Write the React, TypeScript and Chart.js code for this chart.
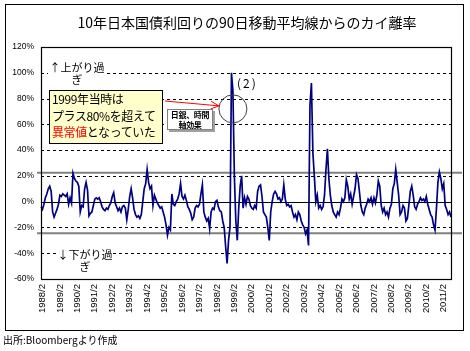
import React, { useEffect, useRef } from 'react';
import { Chart, registerables } from 'chart.js';

Chart.register(...registerables);

// Monthly deviation (%) of the 10y JGB yield from its 90-day moving average, 1988/1 .. 2011/7
const startYear = 1988;
const startMonth = 1;
const deviation: number[] = [
  -4, -6, -2, 3, 6, 10, 12, 8, -8, -12, -9, -6, // 1988
  -2, 5, 4, 6, 5, 4, 6, -2, 3, -1, 22, 18, // 1989
  16, 15, 12, -8, -3, -4, 10, 15, 9, -11, -9, -8, // 1990
  -3, 2, 3, 2, 3, 0, -4, -6, -7, -5, -6, -3, // 1991
  -1, 4, 7, -1, -4, -7, -5, -8, -4, -3, -5, -14, // 1992
  -6, 4, 10, 3, -6, -10, -12, -11, -13, -10, 0, 10, // 1993
  14, 25, 15, 10, 12, -3, 5, 2, -1, -3, -5, -4, // 1994
  -8, -12, -18, -26, -20, -22, 6, -2, -3, 0, 2, 6, // 1995
  14, 4, 2, 5, 1, -4, -6, -9, -14, -12, -5, -3, // 1996
  -4, -2, 6, 13, -8, -12, -15, -13, -21, -8, -5, -6, // 1997
  0, 1, -4, -7, -8, -15, -20, -35, -48, -30, -20, 100, // 1998
  86, 20, -15, -30, -5, 12, 20, -5, 3, -2, 4, 2, // 1999
  -3, -5, -6, -3, -5, 8, 12, 13, 4, -8, -10, -12, // 2000
  -20, -30, -8, 0, 6, 8, 6, 2, 3, 0, 2, 13, // 2001
  2, -3, -2, -4, -3, -8, -12, -10, -14, -8, -10, -15, // 2002
  -18, -20, -25, -22, -34, 75, 92, 38, 20, 0, 5, -5, // 2003
  -3, -6, -4, 5, 25, 41, 18, 5, -3, -8, -10, -12, // 2004
  -8, -10, -5, 2, 0, 3, 17, 12, 2, 6, -2, 4, // 2005
  10, 21, 18, 8, -3, -8, -10, -5, -2, 2, 0, 3, // 2006
  -2, 3, -1, 5, 16, 12, -3, -8, -5, -10, -8, -12, // 2007
  -5, -2, 10, 14, 25, 15, 5, -10, -8, -3, -5, -15, // 2008
  -13, -3, 8, 12, 5, -4, -6, -2, 0, 3, 1, 2, // 2009
  0, 4, -2, -6, -10, -12, -18, -22, -5, 15, 23, 18, // 2010
  10, 14, -3, -6, -10, -8, -12, // 2011
];

const xTickLabels: string[] = [
  '1988/2', '1989/2', '1990/2', '1991/2', '1992/2', '1993/2', '1994/2', '1995/2',
  '1996/2', '1997/2', '1998/2', '1999/2', '2000/2', '2001/2', '2002/2', '2003/2',
  '2004/2', '2005/2', '2006/2', '2007/2', '2008/2', '2009/2', '2010/2', '2011/2',
];

const yMin = -60;
const yMax = 120;
const yStep = 20;
const upperBand = 22.5;
const lowerBand = -24.5;
const circleMonth = '1999/1';
const circleValue = 72;

const titleText = '10年日本国債利回りの90日移動平均線からのカイ離率';
const sourceText = '出所:Bloombergより作成';

const monthLabels: string[] = deviation.map((_, i) => {
  const m0 = startMonth - 1 + i;
  return `${startYear + Math.floor(m0 / 12)}/${(m0 % 12) + 1}`;
});

const decorPlugin = {
  id: 'decor',
  beforeDatasetsDraw(chart: any) {
    const { ctx, chartArea } = chart;
    const { left, right } = chartArea;
    const y = chart.scales.y;
    ctx.save();
    ctx.strokeStyle = '#000';
    ctx.lineWidth = 1;
    for (let v = yMin + yStep; v < yMax; v += yStep) {
      const py = Math.round(y.getPixelForValue(v)) + 0.5;
      ctx.setLineDash(v === 0 ? [] : [3, 3]);
      ctx.beginPath();
      ctx.moveTo(left, py);
      ctx.lineTo(right, py);
      ctx.stroke();
    }
    ctx.setLineDash([]);
    ctx.strokeStyle = '#808080';
    ctx.lineWidth = 2;
    [upperBand, lowerBand].forEach((v) => {
      const py = y.getPixelForValue(v);
      ctx.beginPath();
      ctx.moveTo(left - 4, py);
      ctx.lineTo(right + 11, py);
      ctx.stroke();
    });
    ctx.restore();
  },
  afterDraw(chart: any) {
    const { ctx, chartArea } = chart;
    const { left, right, top, bottom } = chartArea;
    const x = chart.scales.x;
    const y = chart.scales.y;
    ctx.save();
    ctx.strokeStyle = '#000';
    ctx.lineWidth = 1.2;
    ctx.strokeRect(Math.round(left) + 0.5, Math.round(top) + 0.5, Math.round(right - left), Math.round(bottom - top));
    // circle
    const cx = x.getPixelForValue(monthLabels.indexOf(circleMonth));
    const cy = y.getPixelForValue(circleValue);
    ctx.strokeStyle = '#404040';
    ctx.lineWidth = 1;
    ctx.beginPath();
    ctx.arc(cx, cy, 14, 0, Math.PI * 2);
    ctx.stroke();
    // red arrow
    const x0 = 165;
    const y0 = 101;
    const x1 = cx - 14;
    const y1 = cy - 3;
    ctx.strokeStyle = '#ff0000';
    ctx.lineWidth = 1;
    ctx.beginPath();
    ctx.moveTo(x0, y0);
    ctx.lineTo(x1, y1);
    const ang = Math.atan2(y1 - y0, x1 - x0);
    const hl = 9;
    ctx.moveTo(x1, y1);
    ctx.lineTo(x1 - hl * Math.cos(ang - 0.45), y1 - hl * Math.sin(ang - 0.45));
    ctx.moveTo(x1, y1);
    ctx.lineTo(x1 - hl * Math.cos(ang + 0.45), y1 - hl * Math.sin(ang + 0.45));
    ctx.stroke();
    ctx.restore();
  },
};

const jp = '"Noto Sans CJK JP", "Noto Sans", sans-serif';
const tickFont = { family: '"Liberation Sans", Arial, sans-serif', size: 8.5 };

export default function App() {
  const canvasRef = useRef<HTMLCanvasElement | null>(null);

  useEffect(() => {
    const canvas = canvasRef.current;
    if (!canvas) return;
    const chart = new Chart(canvas, {
      type: 'line',
      data: {
        labels: monthLabels,
        datasets: [
          {
            data: deviation,
            borderColor: '#000080',
            borderWidth: 1.7,
            pointRadius: 0,
            tension: 0,
            fill: false,
          },
        ],
      },
      options: {
        responsive: false,
        animation: false,
        devicePixelRatio: 1,
        layout: { padding: { top: 47, left: 0, right: 19, bottom: 32 } },
        plugins: {
          legend: { display: false },
          tooltip: { enabled: false },
          title: { display: false },
        },
        scales: {
          x: {
            type: 'category',
            grid: { display: false, drawTicks: false },
            border: { display: false },
            ticks: {
              autoSkip: false,
              minRotation: 90,
              maxRotation: 90,
              padding: 5,
              color: '#000',
              font: { family: '"Liberation Sans", Arial, sans-serif', size: 9.5 },
              callback: (_v: any, i: number) => (xTickLabels.includes(monthLabels[i]) ? monthLabels[i] : ''),
            },
            afterFit: (s: any) => {
              s.height = 40;
            },
          },
          y: {
            min: yMin,
            max: yMax,
            grid: { display: false, drawTicks: false },
            border: { display: false },
            ticks: {
              stepSize: yStep,
              padding: 7,
              color: '#000',
              font: tickFont,
              callback: (v: any) => `${v}%`,
            },
            afterFit: (s: any) => {
              s.width = 41;
            },
          },
        },
      },
      plugins: [decorPlugin],
    } as any);
    return () => chart.destroy();
  }, []);

  return (
    <div style={{ position: 'fixed', left: 0, top: 0, width: 470, height: 351, background: '#fff', overflow: 'hidden' }}>
      <canvas ref={canvasRef} width={470} height={351} style={{ position: 'absolute', left: 0, top: 0 }} />
      <div style={{ position: 'absolute', left: 5, top: 4, width: 459, height: 327, border: '1px solid #000', boxSizing: 'border-box', pointerEvents: 'none' }} />
      <div style={{ position: 'absolute', left: 24, top: 14, width: 446, textAlign: 'center', fontFamily: jp, fontSize: 14, lineHeight: '17px', whiteSpace: 'nowrap', color: '#000' }}>
        {titleText}
      </div>
      <div style={{ position: 'absolute', left: 48, top: 60, width: 58, padding: '1px 0', background: '#fff', fontFamily: jp, fontSize: 11, lineHeight: '12px', textAlign: 'center', color: '#000' }}>
        ↑上がり過<br />ぎ
      </div>
      <div style={{ position: 'absolute', left: 57, top: 247, width: 56, padding: '1px 0', background: '#fff', fontFamily: jp, fontSize: 11, lineHeight: '12px', textAlign: 'center', color: '#000' }}>
        ↓下がり過<br />ぎ
      </div>
      <div style={{ position: 'absolute', left: 49, top: 90, width: 114, height: 54, boxSizing: 'border-box', border: '1px solid #000', background: '#ffffcc', fontFamily: jp, fontSize: 12, lineHeight: '16.5px', letterSpacing: '-0.4px', paddingLeft: 2, color: '#000', whiteSpace: 'nowrap', overflow: 'hidden' }}>
        1999年当時は<br />プラス80%を超えて<br /><span style={{ color: '#ff0000' }}>異常値</span>となっていた
      </div>
      <div style={{ position: 'absolute', left: 167, top: 109, width: 46, height: 21, boxSizing: 'border-box', border: '1px solid #808080', background: '#fff', boxShadow: '2px 2px 0 #a0a0a0', fontFamily: jp, fontSize: 8, fontWeight: 'bold', lineHeight: '9.5px', letterSpacing: '-0.3px', textAlign: 'center', color: '#000', whiteSpace: 'nowrap', overflow: 'hidden' }}>
        日銀、時間<br />軸効果
      </div>
      <div style={{ position: 'absolute', left: 237, top: 75, fontFamily: jp, fontSize: 12, lineHeight: '16px', letterSpacing: '2px', color: '#000' }}>
        (2)
      </div>
      <div style={{ position: 'absolute', left: 3, top: 333, fontFamily: jp, fontSize: 10, lineHeight: '14px', color: '#000', whiteSpace: 'nowrap' }}>
        {sourceText}
      </div>
    </div>
  );
}
